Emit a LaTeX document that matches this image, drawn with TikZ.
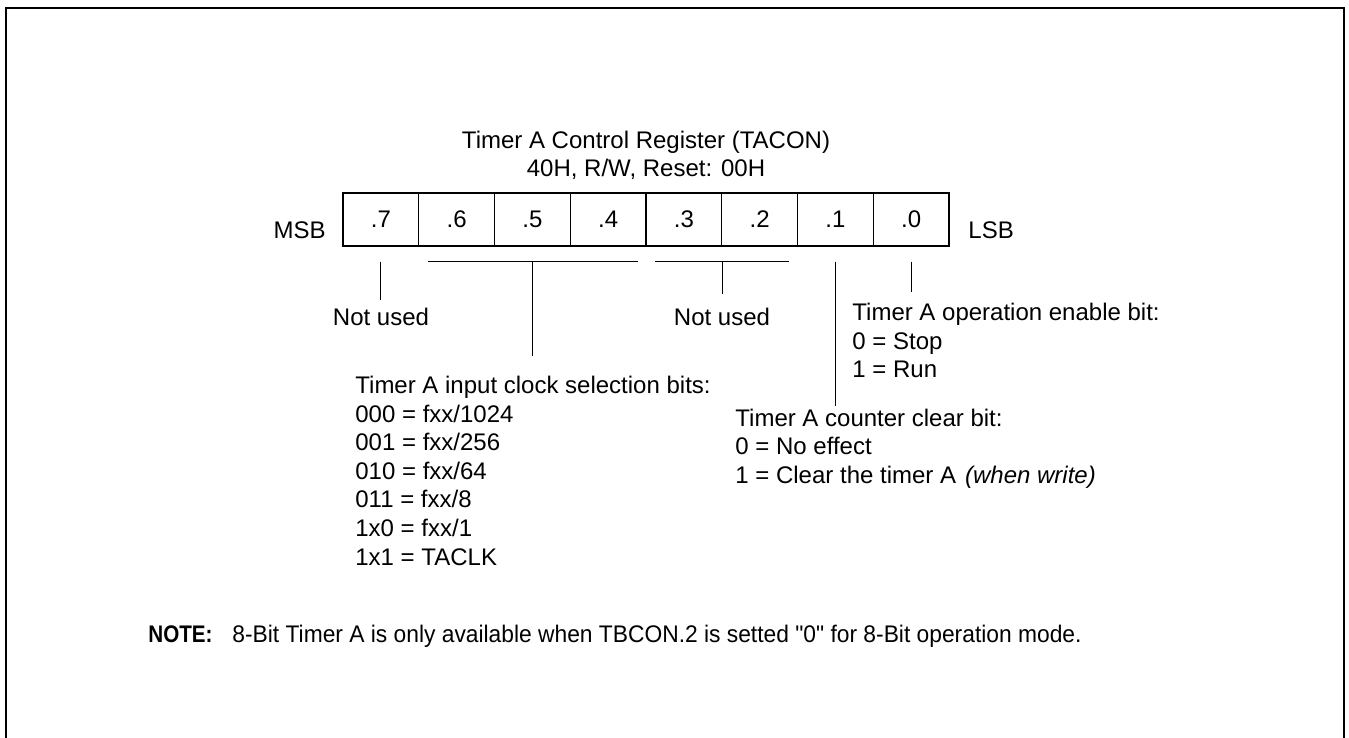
\documentclass[tikz,border=0pt]{standalone}
\usepackage{fontspec}
\usepackage{graphicx}
\setmainfont{Liberation Sans}[Ligatures=TeXOff]
\begin{document}
\begin{tikzpicture}[x=0.5pt,y=-0.5pt,
  every node/.style={font=\fontsize{12}{14}\selectfont},
  cell/.style={draw, line width=0.6pt, minimum width=37.875pt, minimum height=26.5pt, inner sep=0pt},
  lbl/.style={inner sep=0pt, anchor=base west},
  clbl/.style={inner sep=0pt, anchor=base},
  conn/.style={line width=0.6pt},
  frame/.style={line width=1.4pt}]
\useasboundingbox (0,0) rectangle (1349,738);
\draw[frame] (6,738) -- (6,8) -- (1344,8) -- (1344,738);
% title
\node[clbl] (title) at (646,148.5) {Timer A Control Register (TACON)};
\node[clbl] (sub) at (646,176.5) {40H, R/W, Reset: 00H};
% register cells
\foreach \i/\t/\n [evaluate=\i as \cx using 380.875+75.75*\i] in {0/.7/b7,1/.6/b6,2/.5/b5,3/.4/b4,4/.3/b3,5/.2/b2,6/.1/b1,7/.0/b0}
  \node[cell] (\n) at (\cx,219.5) {\t};
\node[lbl, anchor=base east] (msb) at (326,238.5) {MSB};
\node[lbl] (lsb) at (968,238.5) {LSB};
% connectors
\draw[conn] (b7.south) ++(0,15) -- ++(0,38);
\draw[conn] ([xshift=5pt,yshift=-7.5pt]b6.south west) -- ([xshift=-4.5pt,yshift=-7.5pt]b4.south east);
\draw[conn] (b5.south) ++(0,15) -- ++(0,94);
\draw[conn] ([xshift=5pt,yshift=-7.5pt]b3.south west) -- ([xshift=-4.5pt,yshift=-7.5pt]b2.south east);
\draw[conn] (b3.south east) ++(0,15) -- ++(0,32);
\draw[conn] (b1.south) ++(0,15) -- ++(0,144);
\draw[conn] (b0.south) ++(0,15) -- ++(0,30);
% labels
\node[clbl] (nu7) at (381,325.5) {Not used};
\node[clbl] (nu32) at (722,325.5) {Not used};
\node[lbl] (en0) at (852,320.5) {Timer A operation enable bit:};
\node[lbl] (en1) at (852,349.1) {0 = Stop};
\node[lbl] (en2) at (852,377.7) {1 = Run};
\node[lbl] (ck0) at (355,393.5) {Timer A input clock selection bits:};
\node[lbl] (ck1) at (355,422.1) {000 = fxx/1024};
\node[lbl] (ck2) at (355,450.7) {001 = fxx/256};
\node[lbl] (ck3) at (355,479.3) {010 = fxx/64};
\node[lbl] (ck4) at (355,507.9) {011 = fxx/8};
\node[lbl] (ck5) at (355,536.5) {1x0 = fxx/1};
\node[lbl] (ck6) at (355,565.1) {1x1 = TACLK};
\node[lbl] (cl0) at (735,426) {Timer A counter clear bit:};
\node[lbl] (cl1) at (735,454.6) {0 = No effect};
\node[lbl] (cl2) at (735,483.2) {1 = Clear the timer A\hspace{4.5pt}\textit{(when write)}};
% note
\node[lbl] (noteh) at (148,642.5) {\scalebox{0.86}[1]{\bfseries NOTE:}};
\node[lbl] (note) at (232,642.5) {\scalebox{0.95}[1]{8-Bit Timer A is only available when TBCON.2 is setted "0" for 8-Bit operation mode.}};
\end{tikzpicture}
\end{document}
